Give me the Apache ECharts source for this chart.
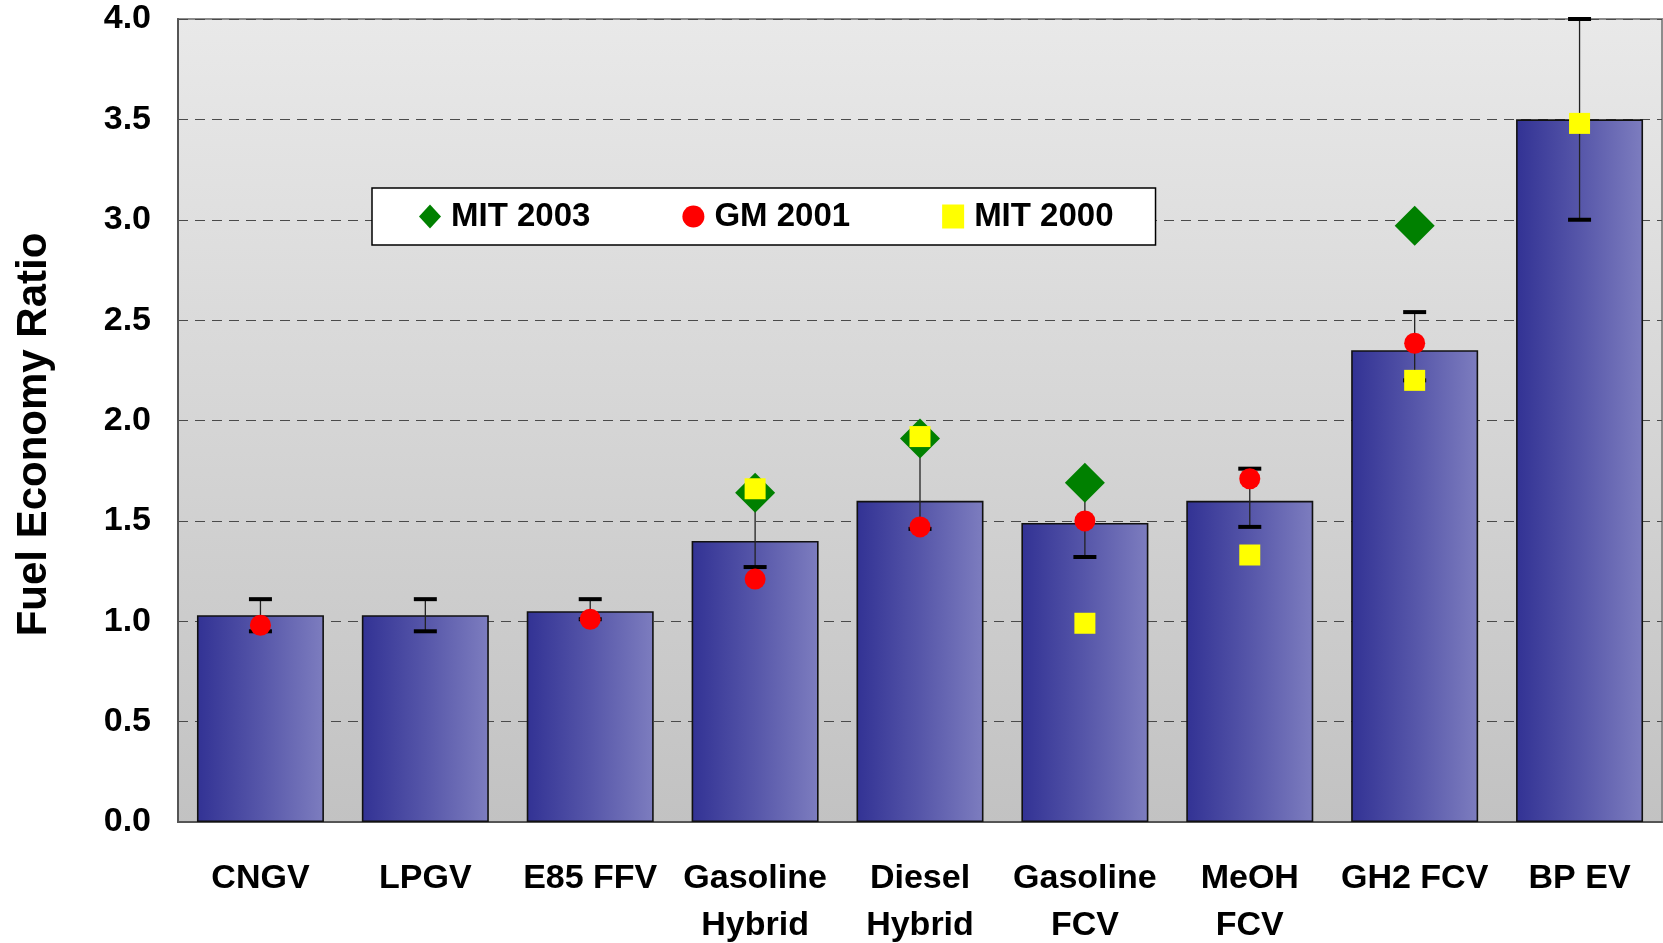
<!DOCTYPE html>
<html>
<head>
<meta charset="utf-8">
<script src="https://cdn.jsdelivr.net/npm/echarts@6/dist/echarts.min.js"></script>
<style>
  html, body { margin: 0; padding: 0; background: #ffffff; }
  #chart { width: 1663px; height: 943px; }
</style>
</head>
<body>
<div id="chart"></div>
<script>
// ---- data ----
const categories = ['CNGV', 'LPGV', 'E85 FFV', 'Gasoline\nHybrid', 'Diesel\nHybrid', 'Gasoline\nFCV', 'MeOH\nFCV', 'GH2 FCV', 'BP EV'];
const ratioValues = [1.03, 1.03, 1.05, 1.40, 1.60, 1.49, 1.60, 2.35, 3.50];
const errLow  = [0.95, 0.95, 1.01, 1.27, 1.46, 1.32, 1.47, 2.20, 3.00];
const errHigh = [1.11, 1.11, 1.11, 1.65, 1.91, 1.69, 1.76, 2.54, 4.00];
const mit2003 = [null, null, null, 1.64, 1.91, 1.69, null, 2.97, null];
const gm2001  = [0.98, null, 1.01, 1.21, 1.47, 1.50, 1.71, 2.385, null];
const mit2000 = [null, null, null, 1.66, 1.92, 0.99, 1.33, 2.20, 3.48];
const seriesNames = ['MIT 2003', 'GM 2001', 'MIT 2000'];
const yAxisTitle = 'Fuel Economy Ratio';

const FONT = "'Liberation Sans', Arial, Helvetica, sans-serif";
const chart = echarts.init(document.getElementById('chart'), null, { renderer: 'canvas' });

const errData = errLow.map((lo, i) => [i, lo, errHigh[i]]);

const option = {
  animation: false,
  backgroundColor: '#ffffff',
  grid: {
    left: 178, right: 1, top: 19, bottom: 121,
    containLabel: false,
    outerBoundsMode: 'none',
    show: true,
    borderColor: '#8c8c8c',
    borderWidth: 2,
    backgroundColor: new echarts.graphic.LinearGradient(0, 0, 0, 1, [
      { offset: 0, color: '#e9e9e9' },
      { offset: 1, color: '#c2c2c2' }
    ])
  },
  legend: {
    data: [
      { name: seriesNames[0], icon: 'diamond' },
      { name: seriesNames[1], icon: 'circle' },
      { name: seriesNames[2], icon: 'rect' }
    ],
    left: 372, top: 188,
    orient: 'horizontal',
    padding: [12, 42, 12, 47],
    itemGap: 92,
    itemWidth: 22, itemHeight: 24,
    backgroundColor: '#ffffff',
    borderColor: '#000000',
    borderWidth: 1.5,
    borderRadius: 0,
    selectedMode: false,
    textStyle: {
      fontFamily: FONT, fontWeight: 'bold', fontSize: 33, color: '#000',
      lineHeight: 33, padding: [0, 0, 0, 5]
    }
  },
  xAxis: {
    type: 'category',
    data: categories,
    axisLine: { show: true, lineStyle: { color: '#555', width: 2 } },
    axisTick: { show: false },
    axisLabel: {
      interval: 0,
      margin: 33,
      fontFamily: FONT, fontWeight: 'bold', fontSize: 34, color: '#000',
      lineHeight: 47
    },
    splitLine: { show: false }
  },
  yAxis: {
    type: 'value',
    min: 0, max: 4, interval: 0.5,
    name: yAxisTitle,
    nameLocation: 'middle',
    nameGap: 123,
    nameRotate: 90,
    nameTextStyle: {
      fontFamily: FONT, fontWeight: 'bold', fontSize: 42, color: '#000',
      padding: [0, 28, 0, 0]
    },
    axisLine: { show: true, lineStyle: { color: '#555', width: 2 } },
    axisTick: { show: false },
    axisLabel: {
      margin: 27,
      padding: [5, 0, 0, 0],
      fontFamily: FONT, fontWeight: 'bold', fontSize: 34, color: '#000',
      formatter: v => v.toFixed(1)
    },
    splitLine: { show: true, lineStyle: { color: '#4a4a4a', width: 1.2, type: [10, 7] } }
  },
  series: [
    {
      name: 'Ratio',
      type: 'bar',
      data: ratioValues,
      barWidth: 127,
      z: 2,
      itemStyle: {
        color: new echarts.graphic.LinearGradient(0, 0, 1, 0, [
          { offset: 0, color: '#323294' },
          { offset: 0.5, color: '#5656a9' },
          { offset: 1, color: '#7d7dbf' }
        ]),
        borderColor: '#111',
        borderWidth: 1.6
      }
    },
    {
      name: 'Range',
      type: 'custom',
      z: 3,
      data: errData,
      encode: { x: 0, y: [1, 2] },
      renderItem: function (params, api) {
        const idx = api.value(0);
        const pLo = api.coord([idx, api.value(1)]);
        const pHi = api.coord([idx, api.value(2)]);
        const cw = 11.5;
        return {
          type: 'group',
          children: [
            { type: 'line', shape: { x1: pLo[0], y1: pLo[1], x2: pHi[0], y2: pHi[1] },
              style: { stroke: '#222', lineWidth: 1.3 } },
            { type: 'line', shape: { x1: pHi[0] - cw, y1: pHi[1], x2: pHi[0] + cw, y2: pHi[1] },
              style: { stroke: '#000', lineWidth: 4 } },
            { type: 'line', shape: { x1: pLo[0] - cw, y1: pLo[1], x2: pLo[0] + cw, y2: pLo[1] },
              style: { stroke: '#000', lineWidth: 4 } }
          ]
        };
      }
    },
    {
      name: seriesNames[0],
      type: 'scatter',
      symbol: 'diamond',
      symbolSize: 40,
      z: 4,
      data: mit2003,
      itemStyle: { color: '#008000', opacity: 1 }
    },
    {
      name: seriesNames[1],
      type: 'scatter',
      symbol: 'circle',
      symbolSize: 21,
      z: 5,
      data: gm2001,
      itemStyle: { color: '#ff0000', opacity: 1 }
    },
    {
      name: seriesNames[2],
      type: 'scatter',
      symbol: 'rect',
      symbolSize: 21,
      z: 6,
      data: mit2000,
      itemStyle: { color: '#ffff00', opacity: 1 }
    }
  ]
};

chart.setOption(option);
</script>
</body>
</html>
